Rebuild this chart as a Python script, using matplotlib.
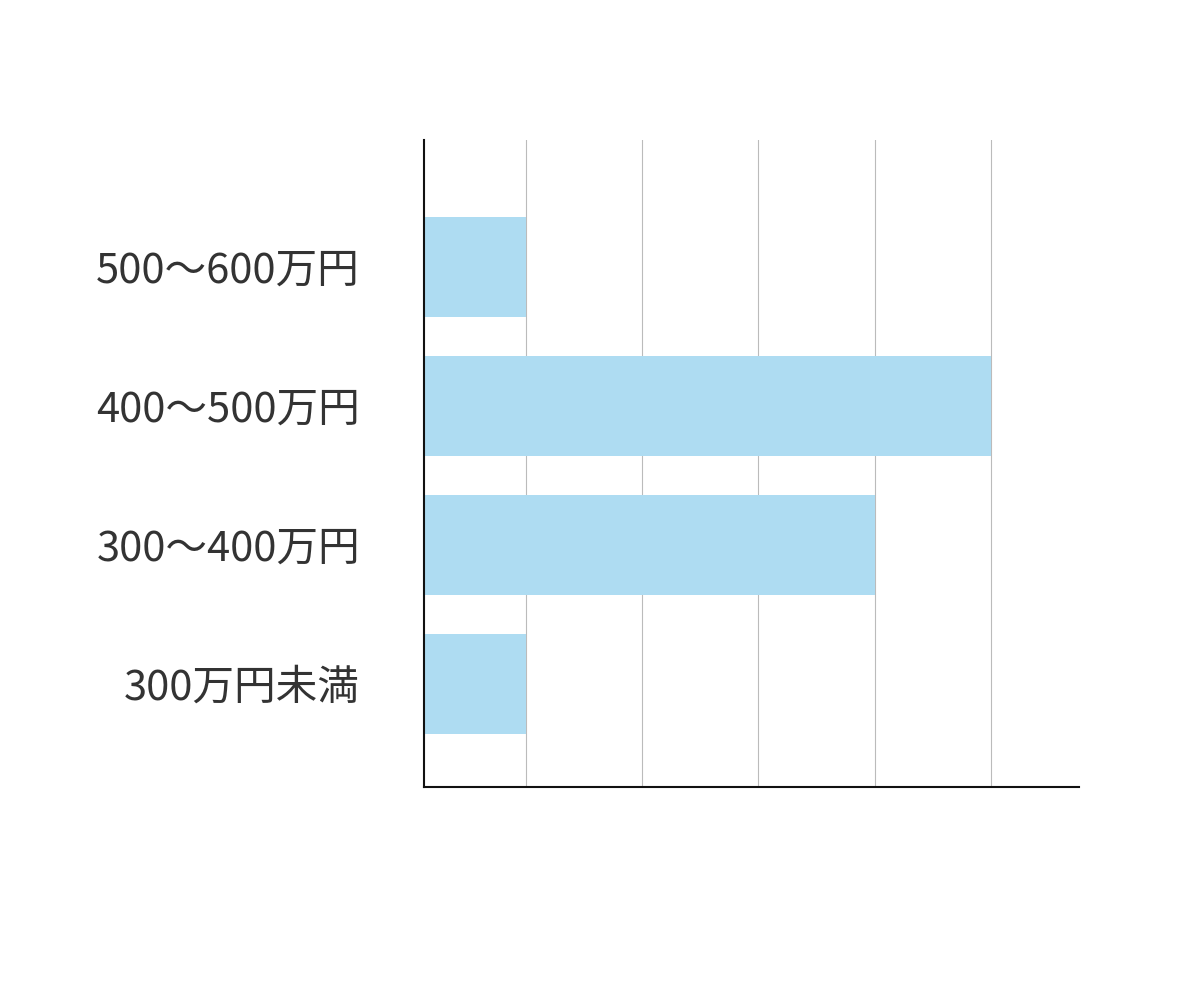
import matplotlib
matplotlib.use("Agg")
import matplotlib.pyplot as plt

plt.rcParams['font.family'] = ['Noto Sans CJK JP', 'DejaVu Sans']

# データ（下から上の順）
categories = ['300万円未満', '300〜400万円', '400〜500万円', '500〜600万円']
values = [1, 4, 5, 1]
grid_ticks = [1, 2, 3, 4, 5]

fig = plt.figure(figsize=(12, 10), dpi=100)
ax = fig.add_axes([0.3533, 0.213, 0.8992 - 0.3533, 0.86 - 0.213])

ax.barh(range(len(categories)), values, height=0.72, color='#aedcf2', zorder=2)

ax.set_xlim(0.1226, 5.757)
ax.set_ylim(-0.741, 3.914)
ax.set_xticks(grid_ticks)
ax.set_xticklabels([])
ax.set_yticks(range(len(categories)))
ax.set_yticklabels(categories, fontsize=30, color='#333333')
ax.tick_params(axis='both', length=0)
ax.tick_params(axis='y', pad=46)
ax.grid(axis='x', color='#bbbbbb', linewidth=0.8, zorder=0)
ax.set_axisbelow(True)

for s in ['top', 'right']:
    ax.spines[s].set_visible(False)
for s in ['left', 'bottom']:
    ax.spines[s].set_linewidth(1.5)
    ax.spines[s].set_color('#111111')

fig.savefig('out.png', dpi=100, facecolor='white')
